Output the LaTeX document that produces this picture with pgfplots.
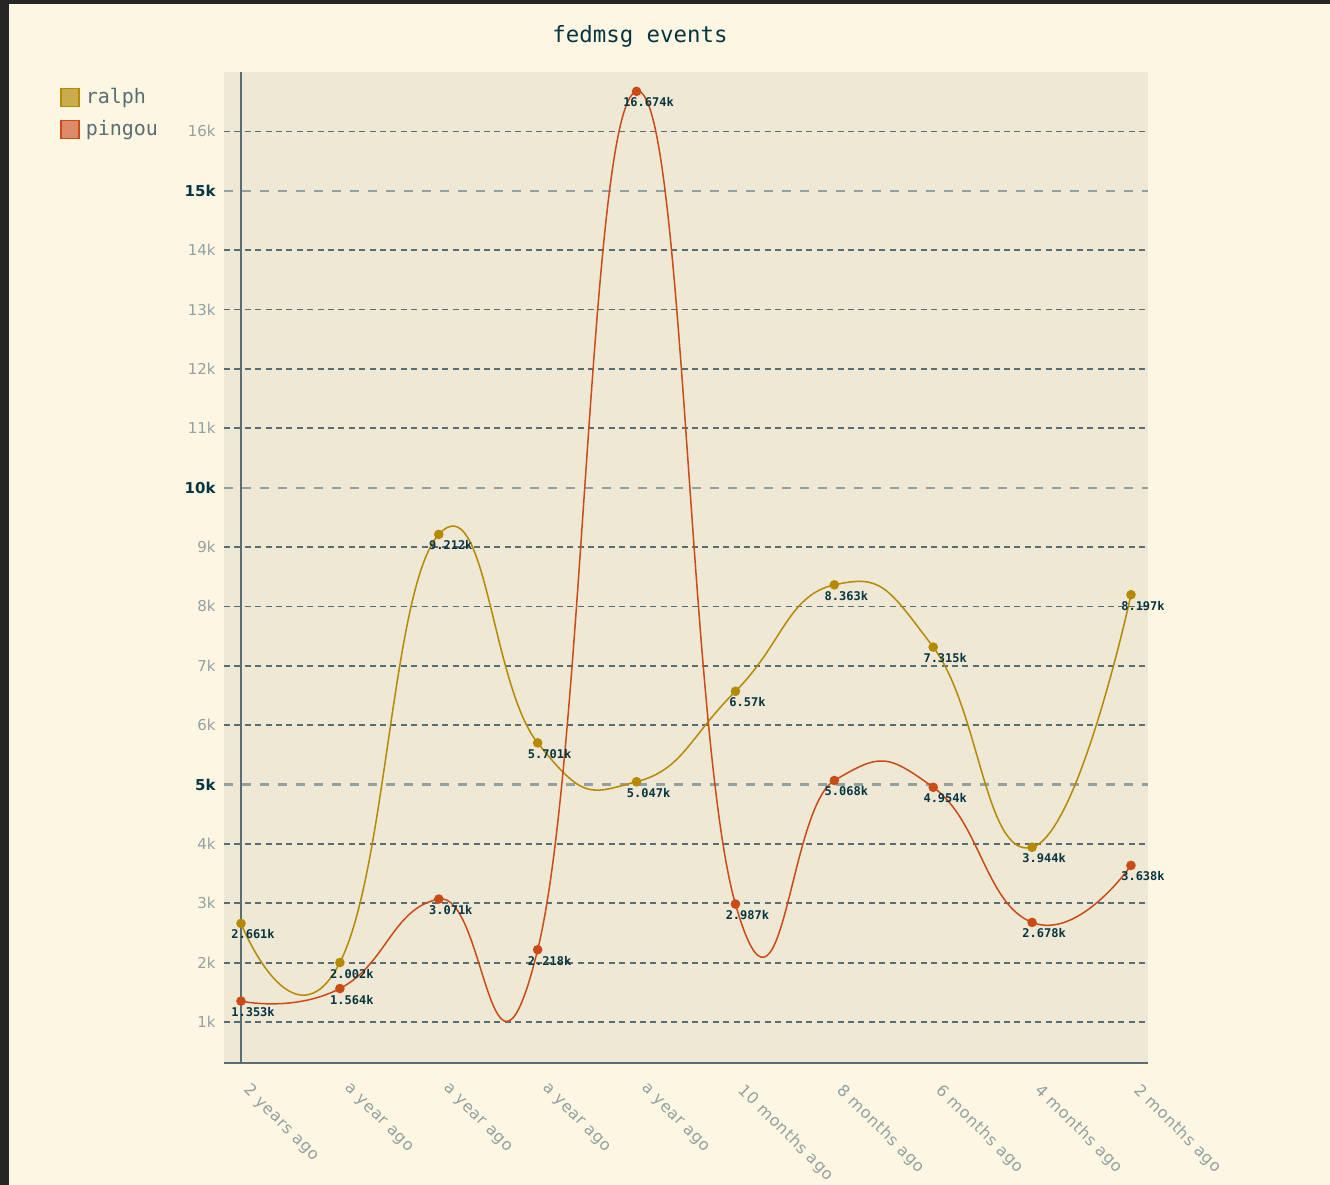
\documentclass[border=0pt]{standalone}
\usepackage{pgfplots}
\pgfplotsset{compat=1.18}
\usepackage{fontspec}
\setmainfont{DejaVu Sans}
\newfontfamily\mono{DejaVu Sans Mono}
\definecolor{bgc}{HTML}{FDF6E3}
\definecolor{plotbg}{HTML}{EEE8D5}
\definecolor{fg}{HTML}{586E75}
\definecolor{fgs}{HTML}{073642}
\definecolor{fgsub}{HTML}{93A1A1}
\definecolor{ralphc}{HTML}{B58900}
\definecolor{pingouc}{HTML}{CB4B16}
\begin{document}
\begin{tikzpicture}[x=0.5pt,y=0.5pt]
\fill[bgc] (0,0) rectangle (1330,-1185);
\fill[black!85] (0,0) rectangle (1330,-4);
\fill[black!85] (0,0) rectangle (9,-1185);
\useasboundingbox (0,0) rectangle (1330,-1185);
\node[font=\mono\fontsize{11.2}{13}\selectfont, text=fgs] at (640,-36) {fedmsg events};
\begin{axis}[
  at={(112pt,-531.5pt)}, anchor=south west, scale only axis,
  width=462pt, height=495.5pt,
  xmin=-0.172, xmax=9.172, ymin=310, ymax=17000,
  scaled y ticks=false,
  axis background/.style={fill=plotbg},
  axis x line*=bottom, axis y line*=left,
  x axis line style={draw=fg, line width=1pt, -},
  y axis line style={draw=none},
  major tick length=0pt,
  xtick={0,...,9},
  xticklabels={2 years ago, a year ago, a year ago, a year ago, a year ago, 10 months ago, 8 months ago, 6 months ago, 4 months ago, 2 months ago},
  xticklabel style={xshift=5.5pt, yshift=-2.5pt, rotate=-45, anchor=north west, inner sep=0pt, font=\fontsize{8}{10}\selectfont\addfontfeature{LetterSpace=4}, text=fgsub},
  xticklabel shift=7pt,
  ytick={1000,2000,3000,4000,6000,7000,8000,9000,11000,12000,13000,14000,16000},
  yticklabels={1k,2k,3k,4k,6k,7k,8k,9k,11k,12k,13k,14k,16k},
  yticklabel style={anchor=east, inner sep=0pt, xshift=-4pt, font=\fontsize{7.5}{9}\selectfont, text=fgsub},
  ymajorgrids,
  major grid style={fg, line width=0.85pt, dash pattern=on 3pt off 2.2pt},
  extra y ticks={5000,10000,15000},
  extra y tick labels={5k,10k,15k},
  extra y tick style={yticklabel style={font=\bfseries\fontsize{7.5}{9}\selectfont, text=fgs}, major grid style={fgsub, line width=1.1pt, dash pattern=on 4.5pt off 4.5pt}},
  extra x ticks={0}, extra x tick labels={},
  extra x tick style={grid=major, major grid style={solid, fg, line width=1pt}},
  legend style={at={(axis description cs:-0.1775,0.987)}, anchor=north west, draw=none, fill=none, font=\mono\fontsize{10}{12}\selectfont, text=fg, row sep=4pt, column sep=1.5pt, inner sep=0pt, nodes={inner sep=1.5pt}},
  legend cell align=left,
  nodes near coords,
  point meta=explicit symbolic,
  every node near coord/.append style={font=\mono\bfseries\fontsize{6}{7}\selectfont, text=fgs, anchor=center, xshift=6pt, yshift=-5.5pt},
]
\addplot[ralphc, line width=0.75pt, smooth, tension=0.85, mark=*, mark size=2pt, mark options={solid, fill=ralphc, draw=ralphc},
  legend image code/.code={\draw[draw=ralphc, fill=ralphc!70!white, line width=0.7pt] (0pt,-4.5pt) rectangle (9pt,4.5pt);}]
coordinates {(0,2661)[2.661k] (1,2002)[2.002k] (2,9212)[9.212k] (3,5701)[5.701k] (4,5047)[5.047k] (5,6570)[6.57k] (6,8363)[8.363k] (7,7315)[7.315k] (8,3944)[3.944k] (9,8197)[8.197k]};
\addlegendentry{ralph}
\addplot[pingouc, line width=0.75pt, smooth, tension=0.85, mark=*, mark size=2pt, mark options={solid, fill=pingouc, draw=pingouc},
  legend image code/.code={\draw[draw=pingouc, fill=pingouc!65!white, line width=0.7pt] (0pt,-4.5pt) rectangle (9pt,4.5pt);}]
coordinates {(0,1353)[1.353k] (1,1564)[1.564k] (2,3071)[3.071k] (3,2218)[2.218k] (4,16674)[16.674k] (5,2987)[2.987k] (6,5068)[5.068k] (7,4954)[4.954k] (8,2678)[2.678k] (9,3638)[3.638k]};
\addlegendentry{pingou}
\end{axis}
\end{tikzpicture}
\end{document}
